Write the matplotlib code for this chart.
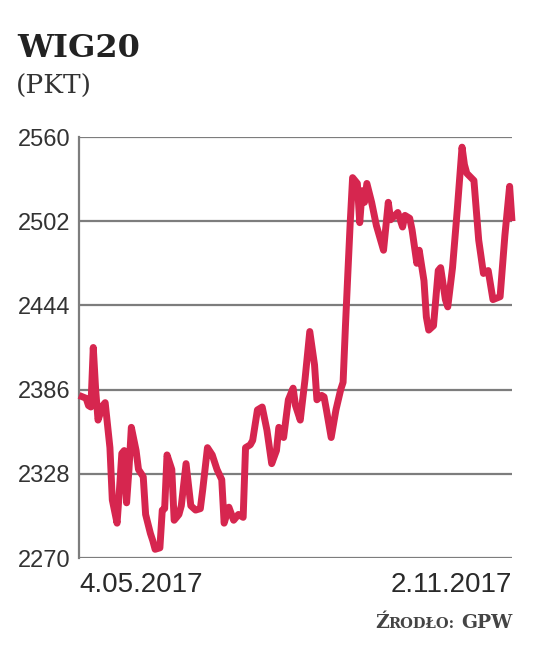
import matplotlib
matplotlib.use('Agg')
import matplotlib.pyplot as plt
import pandas as pd

# ---- data ----
start_date = '2017-05-04'
end_date = '2017-11-02'
day_offsets = [0, 3, 4, 5, 6, 7, 8, 10, 11, 13, 14, 16, 17, 18, 19, 20, 21, 22, 24, 25,
               27, 28, 30, 31, 32, 34, 35, 36, 37, 39, 40, 42, 43, 45, 47, 49, 51, 52, 54, 56,
               58, 60, 61, 63, 65, 67, 69, 70, 72, 73, 75, 77, 79, 81, 83, 84, 86, 88, 90, 91,
               93, 95, 97, 99, 100, 102, 103, 104, 106, 108, 110, 111, 112, 113, 114, 115, 117, 118, 119, 120,
               121, 123, 125, 128, 130, 131, 134, 136, 137, 139, 140, 142, 143, 145, 146, 147, 149, 151, 152, 154,
               155, 157, 159, 161, 162, 163, 166, 168, 170, 172, 174, 177, 179, 181, 182]
wig20_values = [2382, 2380, 2375, 2374, 2415, 2386, 2365, 2375, 2377, 2346, 2310, 2294, 2317, 2342, 2344, 2308, 2331, 2360, 2344, 2331,
                2326, 2300, 2287, 2282, 2276, 2277, 2303, 2304, 2341, 2331, 2296, 2300, 2306, 2335, 2306, 2303, 2304, 2317, 2346, 2341,
                2331, 2324, 2294, 2305, 2296, 2300, 2298, 2346, 2348, 2351, 2372, 2374, 2358, 2335, 2344, 2360, 2353, 2379, 2387, 2375,
                2365, 2393, 2426, 2403, 2379, 2382, 2381, 2372, 2353, 2372, 2386, 2391, 2430, 2466, 2501, 2532, 2528, 2501, 2523, 2515,
                2528, 2515, 2499, 2482, 2515, 2503, 2508, 2498, 2506, 2504, 2496, 2473, 2482, 2461, 2436, 2427, 2430, 2468, 2470, 2448,
                2443, 2470, 2510, 2553, 2541, 2535, 2530, 2489, 2466, 2468, 2448, 2450, 2492, 2526, 2502]
y_ticks = [2270, 2328, 2386, 2444, 2502, 2560]
x_tick_labels = ['4.05.2017', '2.11.2017']
title = 'WIG20'
unit = '(PKT)'
source_parts = ['Ź', 'RODŁO:', 'GPW']

assert len(day_offsets) == len(wig20_values)

dates = pd.Timestamp(start_date) + pd.to_timedelta(day_offsets, unit='D')
x_start = pd.Timestamp(start_date)
x_end = pd.Timestamp(end_date)

# ---- styling ----
LINE_COLOR = '#d6264f'
GRID_COLOR = '#7d7d7d'
TEXT_COLOR = '#333333'
NUM_FONT = ['Liberation Sans', 'DejaVu Sans']
SERIF = ['DejaVu Serif']

W, H = 536, 662
fig = plt.figure(figsize=(W / 100, H / 100), dpi=100)
fig.patch.set_facecolor('white')
ax = fig.add_axes([79 / W, 1 - 558 / H, (512 - 79) / W, (558 - 137) / H])

ax.plot(dates, wig20_values, color=LINE_COLOR, lw=5.0, solid_joinstyle='round',
        solid_capstyle='butt', clip_on=False, zorder=3)

ax.set_ylim(y_ticks[0], y_ticks[-1])
ax.set_xlim(x_start, x_end)
ax.set_yticks(y_ticks)
ax.set_yticklabels([str(v) for v in y_ticks], fontsize=17, family=NUM_FONT, color=TEXT_COLOR)
ax.tick_params(axis='y', length=0, pad=6)
ax.grid(axis='y', color=GRID_COLOR, lw=1.6)
ax.set_axisbelow(True)

ax.set_xticks([x_start, x_end])
ax.set_xticklabels(x_tick_labels, fontsize=20, family=NUM_FONT, color='#2a2a2a')
xl = ax.get_xticklabels()
xl[0].set_ha('left')
xl[1].set_ha('right')
ax.tick_params(axis='x', length=0, pad=10)

for s in ['top', 'right', 'bottom']:
    ax.spines[s].set_visible(False)
ax.spines['left'].set_color(GRID_COLOR)
ax.spines['left'].set_linewidth(1.6)
ax.set_facecolor('white')

# ---- titles ----
fig.text(17 / W, 1 - 57 / H, title, fontsize=23, fontweight='bold', family=SERIF,
         color='#222222', ha='left', va='baseline')
fig.text(16 / W, 1 - 94 / H, unit, fontsize=19, family=SERIF,
         color=TEXT_COLOR, ha='left', va='baseline')

# ---- source (small caps imitation) ----
fig.canvas.draw()
r = fig.canvas.get_renderer()
inv = fig.transFigure.inverted()
y_src = 1 - 628 / H
x_cur = 512 / W
sizes = [13.5, 10.5, 13.5]
gaps = [0, 0, 6]
for part, size, gap in zip(reversed(source_parts), reversed(sizes), reversed(gaps)):
    t = fig.text(x_cur, y_src, part, fontsize=size, fontweight='bold', family=SERIF,
                 color='#444444', ha='right', va='baseline')
    bb = t.get_window_extent(r)
    x_cur = inv.transform((bb.x0 - gap, 0))[0]

fig.savefig('out.png', dpi=100, facecolor='white')
